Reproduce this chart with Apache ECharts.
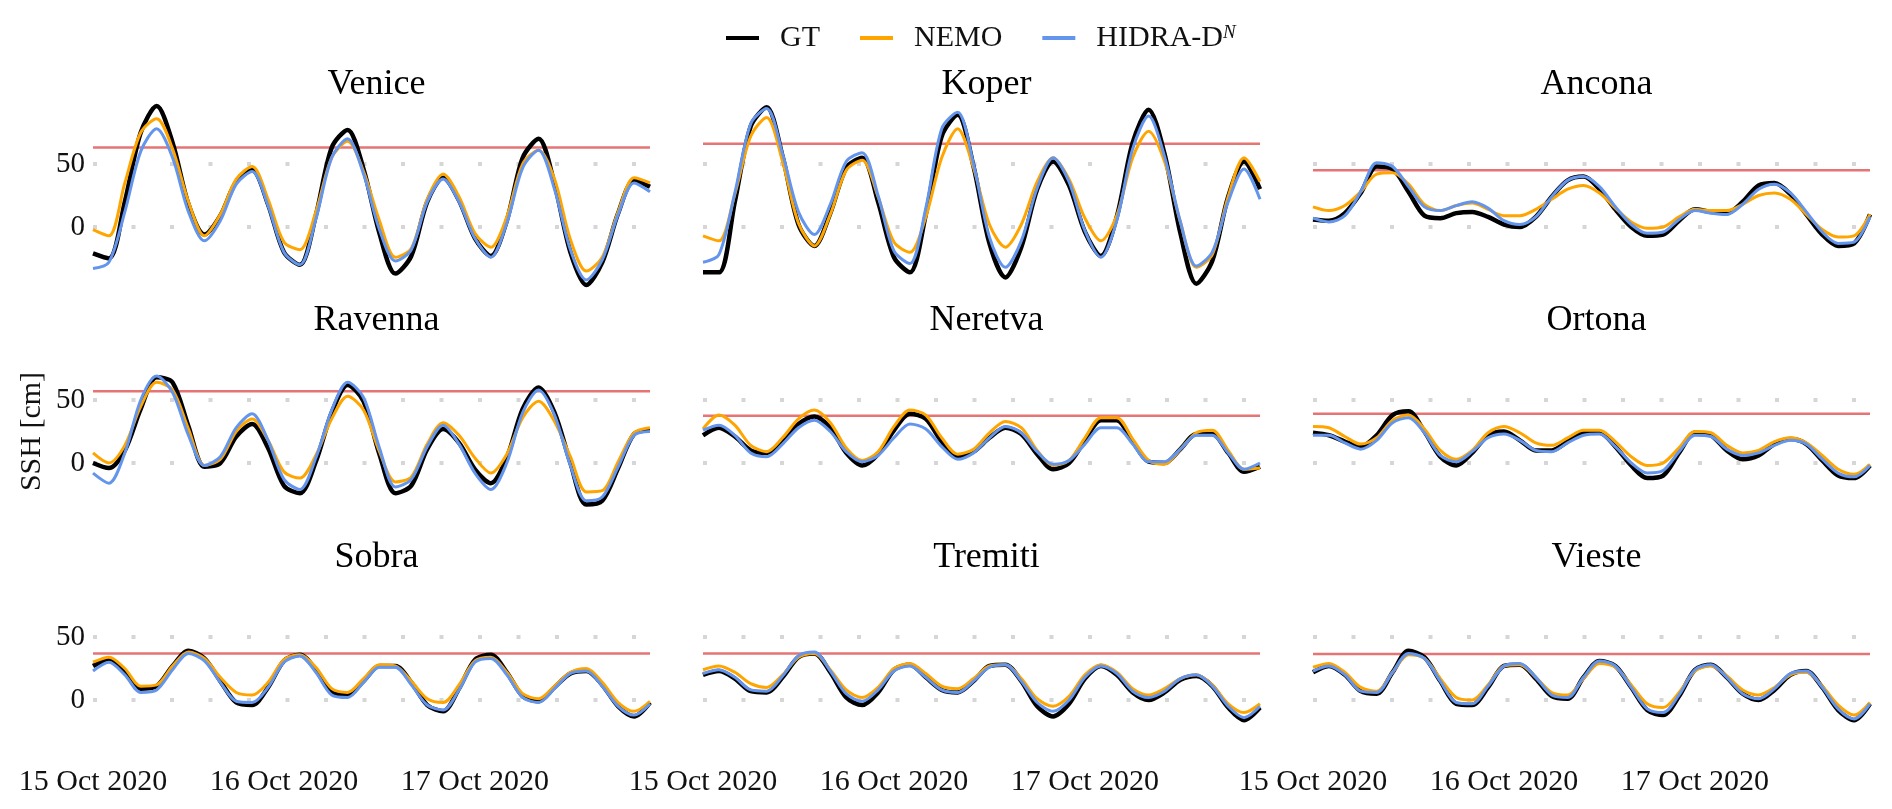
<!DOCTYPE html>
<html><head><meta charset="utf-8">
<script src="https://cdn.jsdelivr.net/npm/echarts@6/dist/echarts.min.js"></script>
<style>html,body{margin:0;padding:0;background:#fff}#c{width:1892px;height:809px}</style>
</head><body><div id="c"></div>
<script>
const hours = [0,2,4,6,8,10,12,14,16,18,20,22,24,26,28,30,32,34,36,38,40,42,44,46,48,50,52,54,56,58,60,62,64,66,68,70];
const tickHours = [0, 24, 48];
const tickLabels = ['15 Oct 2020', '16 Oct 2020', '17 Oct 2020'];
const stations = ['Venice','Koper','Ancona','Ravenna','Neretva','Ortona','Sobra','Tremiti','Vieste'];
const thresholds = [63, 66, 45, 57, 37.5, 39, 37, 37, 36.5];
const seriesNames = ['GT', 'NEMO', 'HIDRA-D^N'];

const venice_GT    = [-21,-25,20,75,96,67,18,-6,9,36,45,18,-20,-30,9,63,77,46,-5,-37,-23,20,39,21,-9,-23,5,55,70,34,-20,-46,-28,11,37,32];
const venice_NEMO  = [-2,-7,35,75,86,62,20,-7,10,38,48,22,-12,-18,12,55,68,44,5,-24,-17,22,42,24,-5,-16,8,50,61,38,-10,-35,-24,12,39,35];
const venice_HIDRA = [-33,-28,12,60,78,55,12,-11,5,34,44,17,-20,-30,6,55,70,42,-2,-27,-18,20,38,20,-9,-24,3,47,61,30,-18,-42,-26,10,35,28];

const koper_GT    = [-36,-36,20,80,95,56,2,-15,11,47,55,20,-24,-36,10,72,89,48,-13,-40,-16,30,52,33,-4,-23,8,67,93,58,-5,-45,-27,24,52,30];
const koper_NEMO  = [-7,-11,26,72,87,52,3,-15,10,45,53,24,-12,-20,8,55,78,47,2,-16,2,36,55,38,7,-11,9,55,76,52,4,-32,-22,24,55,36];
const koper_HIDRA = [-28,-22,27,82,94,58,12,-6,18,52,59,25,-19,-29,15,78,91,50,-8,-32,-11,31,55,36,-3,-24,5,62,88,56,4,-31,-20,20,46,22];

const ancona_GT    = [6,5,11,27,48,46,28,9,7,11,12,8,2,0,8,24,37,40,30,14,0,-7,-6,5,14,12,11,20,33,35,26,10,-6,-15,-13,10];
const ancona_NEMO  = [16,13,17,28,42,43,34,18,13,17,19,14,9,9,14,22,30,33,27,15,4,-1,0,8,14,13,13,18,25,27,22,10,-2,-8,-7,10];
const ancona_HIDRA = [7,4,9,28,51,48,32,16,13,17,20,15,5,2,8,24,37,40,32,16,2,-5,-4,6,13,11,10,18,30,34,27,12,-4,-13,-12,8];

const ravenna_GT    = [0,-4,10,43,68,64,29,-3,0,21,31,12,-18,-24,1,40,62,49,7,-24,-18,11,27,16,-5,-16,4,43,60,40,0,-33,-30,-4,23,26];
const ravenna_NEMO  = [8,0,14,45,64,58,27,-2,3,25,35,18,-7,-12,6,35,53,42,9,-15,-11,15,32,22,4,-8,7,36,49,33,5,-23,-22,1,24,28];
const ravenna_HIDRA = [-8,-16,8,50,69,56,22,-2,5,28,39,18,-13,-21,4,42,64,52,12,-19,-13,13,30,15,-8,-21,0,40,58,38,-2,-30,-27,-3,22,25];

const neretva_GT    = [22,28,21,10,8,18,31,37,28,8,-2,7,26,39,35,17,5,9,20,28,23,7,-5,0,18,34,34,17,1,0,11,23,23,8,-7,-3];
const neretva_NEMO  = [27,38,30,14,9,20,35,42,32,12,2,9,29,42,38,20,7,11,24,33,28,10,-2,2,20,36,36,19,2,-1,11,24,26,10,-5,-4];
const neretva_HIDRA = [26,30,22,8,5,15,28,34,25,9,1,6,20,31,27,13,3,8,20,29,24,9,-1,2,15,28,28,15,1,1,11,22,22,8,-5,0];

const ortona_GT    = [24,22,17,13,22,38,41,25,5,-2,8,22,25,18,10,10,17,24,24,13,-2,-12,-10,8,24,22,10,3,6,15,19,15,2,-10,-12,-2];
const ortona_NEMO  = [29,28,21,15,20,34,38,27,10,3,10,24,29,24,16,14,20,26,26,17,5,-2,0,12,25,24,14,8,10,17,20,16,6,-5,-9,-1];
const ortona_HIDRA = [22,22,16,11,18,32,36,24,6,1,9,20,23,18,10,9,16,22,23,13,0,-8,-6,9,22,21,11,6,8,14,18,15,3,-8,-11,-2];

const sobra_GT    = [27,32,22,9,11,27,39,33,15,-2,-4,10,31,36,24,6,4,15,27,27,14,-4,-9,9,32,36,22,3,-1,10,21,23,12,-5,-13,-2];
const sobra_NEMO  = [30,34,25,11,12,27,38,33,18,6,4,14,32,36,26,9,6,17,28,27,15,1,-2,12,31,34,22,5,1,11,22,25,14,-2,-9,-1];
const sobra_HIDRA = [23,30,20,6,8,24,37,31,14,-1,-2,10,30,35,22,4,2,14,26,26,12,-4,-8,8,30,33,20,2,-2,9,21,23,11,-5,-12,-3];

const tremiti_GT    = [20,23,17,7,6,18,34,37,22,2,-4,6,24,28,18,8,6,15,27,28,15,-5,-13,-3,17,27,20,6,0,6,16,19,11,-6,-16,-6];
const tremiti_NEMO  = [24,27,22,13,10,20,34,37,24,8,2,10,25,29,21,11,9,17,27,28,17,1,-5,3,20,28,22,9,4,9,17,20,12,-3,-10,-3];
const tremiti_HIDRA = [21,24,18,8,7,19,35,38,23,5,-1,8,23,27,18,8,6,15,26,28,15,-2,-9,0,18,27,21,7,2,7,17,20,11,-5,-14,-5];

const vieste_GT    = [22,27,20,7,5,22,39,34,15,-3,-4,10,27,28,17,3,1,18,31,27,10,-8,-12,3,24,28,18,5,0,8,20,23,10,-8,-16,-3];
const vieste_NEMO  = [26,29,22,10,7,22,36,33,17,2,0,12,27,28,18,6,4,17,29,26,12,-3,-6,6,23,27,19,8,4,10,20,22,11,-4,-12,-2];
const vieste_HIDRA = [23,27,20,7,6,22,37,33,15,-2,-3,11,27,29,18,4,2,18,31,27,10,-7,-10,4,24,28,18,5,1,9,21,23,10,-7,-15,-3];

const panelData = [
  [venice_GT, venice_NEMO, venice_HIDRA],
  [koper_GT, koper_NEMO, koper_HIDRA],
  [ancona_GT, ancona_NEMO, ancona_HIDRA],
  [ravenna_GT, ravenna_NEMO, ravenna_HIDRA],
  [neretva_GT, neretva_NEMO, neretva_HIDRA],
  [ortona_GT, ortona_NEMO, ortona_HIDRA],
  [sobra_GT, sobra_NEMO, sobra_HIDRA],
  [tremiti_GT, tremiti_NEMO, tremiti_HIDRA],
  [vieste_GT, vieste_NEMO, vieste_HIDRA]
];

const FONT = 'Liberation Serif';
const colors = ['#000000', '#FFA500', '#6495ED'];
const widths = [4.5, 3, 3];
const colLeft = [93, 703, 1313];
const rowTop = [101, 337, 574];
const panelW = 557, panelH = 189;

const grids = [], xAxes = [], yAxes = [], series = [], titles = [];
for (let i = 0; i < 9; i++) {
  const r = Math.floor(i / 3), c = i % 3;
  grids.push({left: colLeft[c], top: rowTop[r], width: panelW, height: panelH, containLabel: false});
  titles.push({
    text: stations[i], left: colLeft[c] + panelW / 2, top: rowTop[r] - 39, textAlign: 'center',
    textStyle: {fontFamily: FONT, fontSize: 36, fontWeight: 'normal', color: '#000'}
  });
  xAxes.push({
    type: 'value', gridIndex: i, min: 0, max: 70, interval: 24,
    axisLine: {show: false}, axisTick: {show: false}, splitLine: {show: false},
    axisLabel: {
      show: r === 2, margin: 4, fontFamily: FONT, fontSize: 30, color: '#111',
      formatter: v => { const k = tickHours.indexOf(v); return k >= 0 ? tickLabels[k] : ''; }
    }
  });
  const ya = {
    type: 'value', gridIndex: i, min: -50, max: 100, interval: 50,
    axisLine: {show: false}, axisTick: {show: false},
    splitLine: {show: true, showMinLine: false, showMaxLine: false,
      lineStyle: {color: '#d6d6d6', width: 4, type: [4, 34.5]}},
    axisLabel: {
      show: c === 0, margin: 8, fontFamily: FONT, fontSize: 29, color: '#111',
      formatter: v => (v === 0 || v === 50) ? String(v) : ''
    }
  };
  if (i === 3) {
    ya.name = 'SSH [cm]'; ya.nameLocation = 'middle'; ya.nameRotate = 90; ya.nameGap = 46;
    ya.nameTextStyle = {fontFamily: FONT, fontSize: 30, color: '#111'};
  }
  yAxes.push(ya);
  series.push({
    type: 'line', xAxisIndex: i, yAxisIndex: i, silent: true, showSymbol: false, z: 1,
    data: [[0, thresholds[i]], [70, thresholds[i]]],
    lineStyle: {color: 'rgba(222,70,70,0.75)', width: 2.5}
  });
  for (let k = 0; k < 3; k++) {
    series.push({
      type: 'line', name: seriesNames[k], xAxisIndex: i, yAxisIndex: i,
      showSymbol: false, smooth: 0.3, z: 2 + k,
      data: hours.map((h, j) => [h, panelData[i][k][j]]),
      lineStyle: {color: colors[k], width: widths[k]},
      itemStyle: {color: colors[k]}
    });
  }
}

const chart = echarts.init(document.getElementById('c'), null, {renderer: 'canvas'});
chart.setOption({
  animation: false,
  backgroundColor: '#fff',
  title: titles,
  legend: {
    data: seriesNames, left: 721, top: 18, icon: 'rect', itemWidth: 33, itemHeight: 4, itemGap: 40,
    formatter: n => n === 'HIDRA-D^N' ? '{m|HIDRA-D}{s|N}' : n,
    textStyle: {fontFamily: FONT, fontSize: 30, color: '#111', padding: [0, 0, 0, 16],
      rich: {m: {fontFamily: FONT, fontSize: 30, color: '#111'},
             s: {fontFamily: FONT, fontSize: 19, fontStyle: 'italic', color: '#111', verticalAlign: 'top', padding: [0, 0, 10, 0]}}}
  },
  grid: grids, xAxis: xAxes, yAxis: yAxes, series: series
});
</script></body></html>
